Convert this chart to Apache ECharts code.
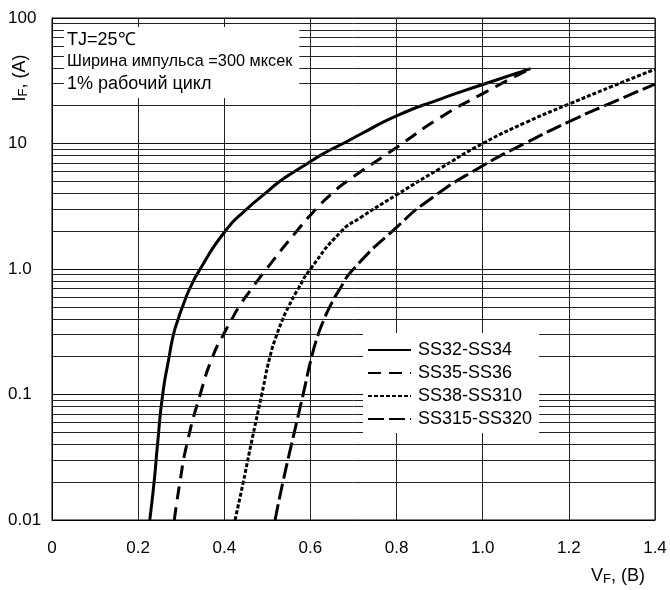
<!DOCTYPE html>
<html>
<head>
<meta charset="utf-8">
<script src="https://cdn.jsdelivr.net/npm/echarts@6/dist/echarts.min.js"></script>
<style>
html,body{margin:0;padding:0;background:#fff;}
#chart{width:670px;height:590px;}
</style>
</head>
<body>
<div id="chart"></div>
<script>
// ---- data ----
var seriesNames = ['SS32-SS34', 'SS35-SS36', 'SS38-SS310', 'SS315-SS320'];

var ss32V = [0.227, 0.237, 0.245, 0.257, 0.272, 0.282, 0.293, 0.303, 0.320, 0.344, 0.402, 0.452, 0.495, 0.529, 0.564, 0.595, 0.622, 0.649, 0.676, 0.715, 0.800, 0.900, 1.000, 1.111];
var ss32I = [0.01, 0.02, 0.04, 0.1, 0.2, 0.3, 0.4, 0.5, 0.7, 1.0, 2, 3, 4, 5, 6, 7, 8, 9, 10, 11.8, 16.6, 22.5, 29.5, 39.5];

var ss35V = [0.284, 0.297, 0.313, 0.344, 0.373, 0.398, 0.418, 0.434, 0.464, 0.498, 0.568, 0.613, 0.650, 0.685, 0.800, 0.900, 1.000, 1.111];
var ss35I = [0.01, 0.02, 0.04, 0.1, 0.2, 0.3, 0.4, 0.5, 0.7, 1.0, 2, 3, 4, 5, 9.3, 16.0, 25.0, 39.5];

var ss38V = [0.425, 0.444, 0.462, 0.487, 0.506, 0.522, 0.536, 0.549, 0.572, 0.600, 0.672, 0.715, 0.800, 0.900, 1.000, 1.100, 1.200, 1.300, 1.400];
var ss38I = [0.01, 0.02, 0.04, 0.1, 0.2, 0.3, 0.4, 0.5, 0.7, 1.0, 2.0, 2.55, 3.9, 6.3, 10, 14.7, 20.6, 28.5, 39];

var ss315V = [0.518, 0.536, 0.556, 0.583, 0.603, 0.618, 0.632, 0.645, 0.669, 0.700, 0.800, 0.878, 1.000, 1.100, 1.200, 1.300, 1.400];
var ss315I = [0.01, 0.02, 0.04, 0.1, 0.2, 0.3, 0.4, 0.5, 0.7, 1.0, 2.15, 3.6, 6.65, 10.1, 14.9, 21.2, 29.7];

var xTickLabels = ['0', '0.2', '0.4', '0.6', '0.8', '1.0', '1.2', '1.4'];
var yTickLabels = ['0.01', '0.1', '1.0', '10', '100'];
var minorGridValues = [0.02, 0.03, 0.04, 0.05, 0.06, 0.07, 0.08, 0.09,
                       0.2, 0.3, 0.4, 0.5, 0.6, 0.7, 0.8, 0.9,
                       2, 3, 4, 5, 6, 7, 8, 9,
                       20, 30, 40, 50, 60, 70, 80, 90];
var noteLines = ['TJ=25\u2103', '\u0428\u0438\u0440\u0438\u043d\u0430 \u0438\u043c\u043f\u0443\u043b\u044c\u0441\u0430 =300 \u043c\u043a\u0441\u0435\u043a', '1% \u0440\u0430\u0431\u043e\u0447\u0438\u0439 \u0446\u0438\u043a\u043b'];

// ---- build ----
function pairs(v, i) { return v.map(function (x, k) { return [x, i[k]]; }); }
var FONT = 'Liberation Sans';

var chart = echarts.init(document.getElementById('chart'), null, { renderer: 'canvas' });

var lineCommon = {
  type: 'line', symbol: 'none', smooth: 0.6, silent: true,
  z: 3
};

var option = {
  animation: false,
  backgroundColor: '#fff',
  textStyle: { fontFamily: FONT, color: '#000' },
  grid: {
    left: 52, right: 15, top: 18, bottom: 70,
    show: true, borderColor: '#000', borderWidth: 1, backgroundColor: 'transparent'
  },
  title: {
    text: '{a|' + noteLines[0] + '}\n{b|' + noteLines[1] + '}\n{a|' + noteLines[2] + '}',
    left: 64, top: 27,
    padding: [2, 7, 3, 3],
    backgroundColor: '#fff',
    z: 10,
    textStyle: {
      fontFamily: FONT, fontWeight: 'normal', color: '#000', fontSize: 18, lineHeight: 22,
      rich: {
        a: { fontFamily: FONT, fontSize: 18, lineHeight: 22, color: '#000' },
        b: { fontFamily: FONT, fontSize: 16.3, lineHeight: 22, color: '#000' }
      }
    }
  },
  legend: {
    data: seriesNames,
    orient: 'vertical',
    left: 363, top: 333,
    padding: [8, 7, 5, 4],
    itemWidth: 43, itemHeight: 14, itemGap: 5,
    backgroundColor: '#fff',
    itemStyle: { opacity: 0 },
    z: 10,
    textStyle: { fontFamily: FONT, fontSize: 18, color: '#000', padding: [0, 0, 0, 2] }
  },
  xAxis: {
    type: 'value', min: 0, max: 1.4, interval: 0.2,
    axisLine: { show: true, lineStyle: { color: '#000', width: 1 } },
    axisTick: { show: false },
    splitLine: { show: true, lineStyle: { color: '#222', width: 1 } },
    axisLabel: {
      margin: 20, fontSize: 17, color: '#000', fontFamily: FONT,
      formatter: function (v) { return xTickLabels[Math.round(v / 0.2)]; }
    },
    name: '{a|V}{s|F}{a|, (B)}',
    nameLocation: 'end',
    nameGap: -10,
    nameTextStyle: {
      align: 'right', verticalAlign: 'top', padding: [46, 0, 0, 0],
      rich: {
        a: { fontFamily: FONT, fontSize: 18, color: '#000' },
        s: { fontFamily: FONT, fontSize: 13, color: '#000', padding: [7, 0, 0, 0] }
      }
    }
  },
  yAxis: {
    type: 'log', logBase: 10, min: 0.01, max: 100,
    axisLine: { show: true, lineStyle: { color: '#000', width: 1 } },
    axisTick: { show: false },
    splitLine: { show: true, lineStyle: { color: '#111', width: 1 } },
    axisLabel: {
      margin: 44, align: 'left', fontSize: 17, color: '#000', fontFamily: FONT,
      formatter: function (v) { return yTickLabels[Math.round(Math.log10(v)) + 2]; }
    }
  },
  graphic: [{
    type: 'text', x: 20, y: 78, rotation: Math.PI / 2, z: 10,
    style: {
      text: '{a|I}{s|F}{a|, (A)}',
      align: 'center', verticalAlign: 'middle',
      rich: {
        a: { fontFamily: FONT, fontSize: 18, fill: '#000', color: '#000' },
        s: { fontFamily: FONT, fontSize: 13, fill: '#000', color: '#000', padding: [6, 0, 0, 0] }
      }
    }
  }],
  series: [
    Object.assign({}, lineCommon, {
      name: seriesNames[0], data: pairs(ss32V, ss32I),
      lineStyle: { color: '#000', width: 3, type: 'solid' }, itemStyle: { color: '#000' },
      markLine: {
        silent: true, symbol: ['none', 'none'], label: { show: false }, animation: false,
        lineStyle: { color: '#222', width: 1, type: 'solid' },
        emphasis: { disabled: true },
        data: minorGridValues.map(function (v) { return { yAxis: v }; })
      }
    }),
    Object.assign({}, lineCommon, {
      name: seriesNames[1], data: pairs(ss35V, ss35I),
      lineStyle: { color: '#000', width: 3, type: [13, 8] }, itemStyle: { color: '#000' }
    }),
    Object.assign({}, lineCommon, {
      name: seriesNames[2], data: pairs(ss38V, ss38I),
      lineStyle: { color: '#000', width: 3, type: [4, 2] }, itemStyle: { color: '#000' }
    }),
    Object.assign({}, lineCommon, {
      name: seriesNames[3], data: pairs(ss315V, ss315I),
      lineStyle: { color: '#000', width: 3, type: [16, 5] }, itemStyle: { color: '#000' }
    })
  ]
};
chart.setOption(option);
</script>
</body>
</html>
